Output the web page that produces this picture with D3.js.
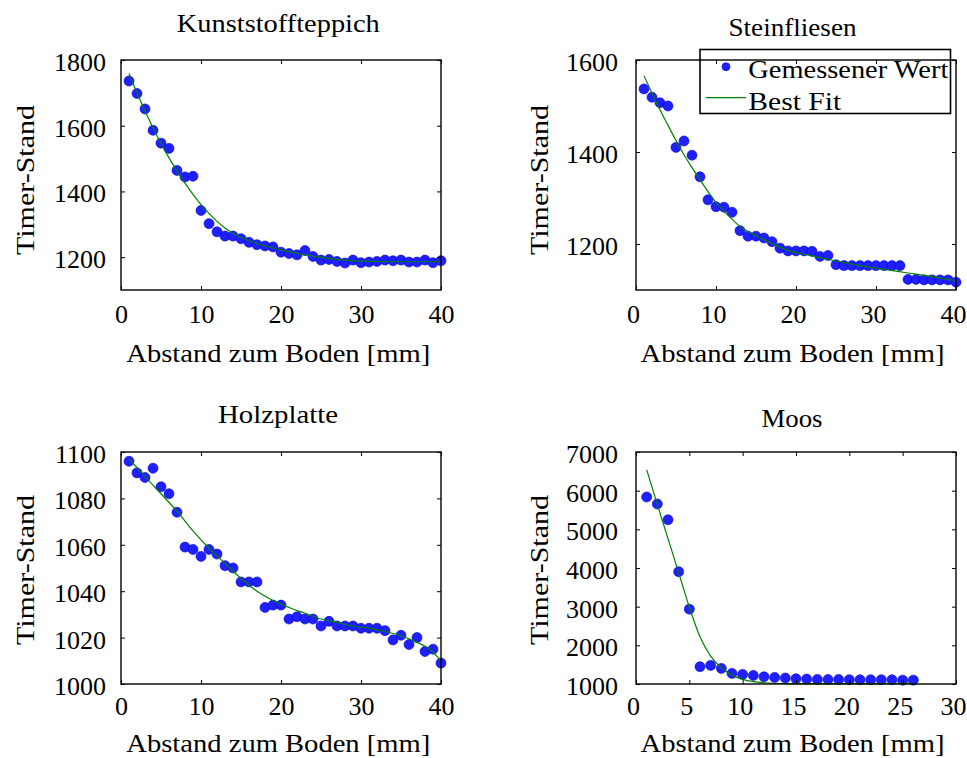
<!DOCTYPE html>
<html>
<head>
<meta charset="utf-8">
<script src="https://cdn.jsdelivr.net/npm/d3@7"></script>
<style>
  body { margin: 0; background: #fff; }
  text { font-family: "Liberation Serif", "Times New Roman", serif; fill: #000; }
</style>
</head>
<body>
<svg id="chart" width="967" height="758"></svg>
<script>
// Abstand zum Boden [mm]
const abstand = [1, 2, 3, 4, 5, 6, 7, 8, 9, 10, 11, 12, 13, 14, 15, 16, 17, 18, 19, 20,
                 21, 22, 23, 24, 25, 26, 27, 28, 29, 30, 31, 32, 33, 34, 35, 36, 37, 38, 39, 40];
const abstandMoos = [1, 2, 3, 4, 5, 6, 7, 8, 9, 10, 11, 12, 13, 14, 15, 16, 17, 18, 19, 20,
                     21, 22, 23, 24, 25, 26];

// gemessene Timer-Stände
const kunststoff = [1736, 1698, 1651, 1586, 1547, 1531, 1464, 1444, 1446, 1342, 1302, 1277, 1264, 1264, 1256, 1245, 1238, 1234, 1231, 1215,
                    1211, 1207, 1220, 1202, 1191, 1193, 1187, 1182, 1191, 1183, 1185, 1187, 1191, 1189, 1191, 1185, 1185, 1191, 1183, 1189];
const steinfliesen = [1537, 1519, 1507, 1500, 1410, 1424, 1393, 1346, 1296, 1281, 1280, 1269, 1229, 1217, 1217, 1213, 1205, 1191, 1185, 1185,
                      1185, 1184, 1173, 1175, 1155, 1153, 1153, 1153, 1153, 1153, 1153, 1153, 1153, 1123, 1123, 1122, 1122, 1122, 1122, 1117];
const holz = [1096, 1091, 1089, 1093, 1085, 1082, 1074, 1059, 1058, 1055, 1058, 1056, 1051, 1050, 1044, 1044, 1044, 1033, 1034, 1034,
              1028, 1029, 1028, 1028, 1025, 1027, 1025, 1025, 1025, 1024, 1024, 1024, 1023, 1019, 1021, 1017, 1020, 1014, 1015, 1009];
const moos = [5836, 5655, 5247, 3904, 2936, 1447, 1481, 1403, 1274, 1248, 1222, 1187, 1170, 1153, 1135, 1127, 1118, 1118, 1118, 1110,
              1110, 1110, 1110, 1110, 1100, 1100];

// Best Fit
const fitX1 = [1, 2, 3, 4, 5, 6, 7, 8, 9, 10, 11, 12, 13, 14, 15, 16, 18, 20, 22, 24, 26, 28, 30, 35, 40];
const fit1 = [1759, 1700, 1645, 1594, 1546, 1502, 1462, 1425, 1391, 1360, 1333, 1309, 1289, 1273, 1260, 1250, 1234, 1222, 1212, 1203, 1196, 1191, 1188, 1186, 1186];
const fitX2 = [1, 2, 3, 4, 5, 6, 7, 8, 9, 10, 11, 12, 13, 14, 15, 17, 19, 22, 25, 28, 31, 34, 37, 40];
const fit2 = [1566, 1528, 1492, 1458, 1425, 1394, 1366, 1340, 1314, 1290, 1271, 1254, 1238, 1227, 1218, 1201, 1186, 1174, 1163, 1153, 1145, 1137, 1129, 1120];
const fitX3 = [1, 3, 5, 7, 9, 11, 13, 15, 17, 19, 21, 23, 25, 27, 29, 31, 33, 35, 37, 38, 39, 40];
const fit3 = [1097, 1089.5, 1082, 1074.5, 1066, 1058.5, 1052, 1045.5, 1040, 1036, 1033, 1030.5, 1028, 1026.5, 1025, 1024, 1022.6, 1020.8, 1018, 1016.3, 1013.7, 1010];
const fitX4 = [1, 2, 3, 4, 5, 6, 7, 8, 9, 10, 11, 12, 13, 15, 18, 22, 26];
const fit4 = [6546, 5640, 4760, 3880, 2990, 2220, 1720, 1420, 1230, 1120, 1060, 1033, 1020, 1012, 1010, 1012, 1018];

// Achsen
const xTicks40 = [0, 10, 20, 30, 40];
const xTicksMoos = [0, 5, 10, 15, 20, 25, 30];
const yTicks1 = [1200, 1400, 1600, 1800];
const yTicks2 = [1200, 1400, 1600];
const yTicks3 = [1000, 1020, 1040, 1060, 1080, 1100];
const yTicks4 = [1000, 2000, 3000, 4000, 5000, 6000, 7000];

const titles = ['Kunststoffteppich', 'Steinfliesen', 'Holzplatte', 'Moos'];
const xLabel = 'Abstand zum Boden [mm]';
const yLabel = 'Timer-Stand';
const legendLabels = ['Gemessener Wert', 'Best Fit'];

const svg = d3.select('#chart');
svg.append('rect').attr('width', 967).attr('height', 758).attr('fill', '#fff');

const FONT = 26;
const blue = '#2020ff';
const green = '#008000';
const fmt = d3.format('d');

const panels = [
    { title: titles[0], xs: abstand, ys: kunststoff, fx: fitX1, fy: fit1,
      xDomain: [0, 40], yDomain: [1100, 1800], xTicks: xTicks40, yTicks: yTicks1,
      left: 121, right: 441, top: 60, bottom: 290,
      titleX: 278.3, titleY: 31.7, titleW: 203, xlabX: 278.3, xlabY: 361.5,
      ylabX: 33.5, ylabY: 180, padX: 15, padY: 15, shiftX: 0 },
    { title: titles[1], xs: abstand, ys: steinfliesen, fx: fitX2, fy: fit2,
      xDomain: [0, 40], yDomain: [1100, 1600], xTicks: xTicks40, yTicks: yTicks2,
      left: 636, right: 956, top: 60, bottom: 290,
      titleX: 792.5, titleY: 36, titleW: 128, xlabX: 792.5, xlabY: 361.5,
      ylabX: 548, ylabY: 180, padX: 15, padY: 18, shiftX: -3, legend: true },
    { title: titles[2], xs: abstand, ys: holz, fx: fitX3, fy: fit3,
      xDomain: [0, 40], yDomain: [1000, 1100], xTicks: xTicks40, yTicks: yTicks3,
      left: 121, right: 441, top: 452, bottom: 684,
      titleX: 278, titleY: 422.7, titleW: 120, xlabX: 278.3, xlabY: 751.7,
      ylabX: 33.5, ylabY: 570, padX: 13, padY: 15, shiftX: 0 },
    { title: titles[3], xs: abstandMoos, ys: moos, fx: fitX4, fy: fit4,
      xDomain: [0, 30], yDomain: [1000, 7000], xTicks: xTicksMoos, yTicks: yTicks4,
      left: 636, right: 956, top: 452, bottom: 684,
      titleX: 792, titleY: 426.7, titleW: 61, xlabX: 792.5, xlabY: 751.7,
      ylabX: 548, ylabY: 570, padX: 13, padY: 18, shiftX: -3 }
];

function styleTicks(sel) {
    sel.select('.domain').remove();
    sel.selectAll('.tick line').attr('stroke', '#000').attr('stroke-width', 1);
    sel.selectAll('.tick text').attr('font-family', '"Liberation Serif", serif')
        .attr('font-size', FONT).attr('fill', '#000');
    sel.attr('font-family', null).attr('font-size', null);
}

function drawPanel(p) {
    const x = d3.scaleLinear().domain(p.xDomain).range([p.left, p.right]);
    const y = d3.scaleLinear().domain(p.yDomain).range([p.bottom, p.top]);
    const g = svg.append('g');

    // Messpunkte
    g.append('g').selectAll('circle')
        .data(p.xs.map((d, i) => [d, p.ys[i]]))
        .join('circle')
        .attr('cx', d => x(d[0]))
        .attr('cy', d => y(d[1]))
        .attr('r', 5)
        .attr('fill', blue)
        .attr('stroke', '#0000d0')
        .attr('stroke-width', 0.6);

    // Best Fit
    const line = d3.line()
        .x(d => x(d[0]))
        .y(d => y(d[1]))
        .curve(d3.curveMonotoneX);
    g.append('path')
        .datum(p.fx.map((d, i) => [d, p.fy[i]]))
        .attr('d', line)
        .attr('fill', 'none')
        .attr('stroke', green)
        .attr('stroke-width', 1.2);

    if (p.legend) {
        const lg = g.append('g');
        lg.append('rect')
            .attr('x', 700).attr('y', 49.5).attr('width', 250.5).attr('height', 64)
            .attr('fill', '#fff').attr('stroke', '#000').attr('stroke-width', 1.6);
        lg.append('circle').attr('cx', 726).attr('cy', 66.7).attr('r', 4)
            .attr('fill', blue).attr('stroke', '#0000d0').attr('stroke-width', 0.6);
        lg.append('text').attr('x', 748.3).attr('y', 78.3).attr('font-size', FONT)
            .attr('textLength', 200).attr('lengthAdjust', 'spacingAndGlyphs')
            .text(legendLabels[0]);
        lg.append('line').attr('x1', 706).attr('x2', 746).attr('y1', 97.7).attr('y2', 97.7)
            .attr('stroke', green).attr('stroke-width', 1.2);
        lg.append('text').attr('x', 748.3).attr('y', 110).attr('font-size', FONT)
            .attr('textLength', 93).attr('lengthAdjust', 'spacingAndGlyphs')
            .text(legendLabels[1]);
    }

    // Ticks innen auf allen Seiten
    g.append('g').attr('transform', `translate(0,${p.bottom})`)
        .call(d3.axisBottom(x).tickValues(p.xTicks).tickSize(-4).tickPadding(p.padX).tickFormat(fmt))
        .call(styleTicks)
        .selectAll('.tick text').attr('dx', p.shiftX);
    g.append('g').attr('transform', `translate(0,${p.top})`)
        .call(d3.axisTop(x).tickValues(p.xTicks).tickSize(-4).tickFormat(''))
        .call(styleTicks);
    g.append('g').attr('transform', `translate(${p.left},0)`)
        .call(d3.axisLeft(y).tickValues(p.yTicks).tickSize(-4).tickPadding(p.padY).tickFormat(fmt))
        .call(styleTicks)
        .selectAll('.tick text').attr('dy', '0.4em');
    g.append('g').attr('transform', `translate(${p.right},0)`)
        .call(d3.axisRight(y).tickValues(p.yTicks).tickSize(-4).tickFormat(''))
        .call(styleTicks);

    // Rahmen
    g.append('rect')
        .attr('x', p.left).attr('y', p.top)
        .attr('width', p.right - p.left).attr('height', p.bottom - p.top)
        .attr('fill', 'none').attr('stroke', '#000').attr('stroke-width', 1.4);

    // Beschriftungen
    g.append('text')
        .attr('x', p.titleX).attr('y', p.titleY)
        .attr('text-anchor', 'middle').attr('font-size', FONT)
        .attr('textLength', p.titleW).attr('lengthAdjust', 'spacingAndGlyphs')
        .text(p.title);
    g.append('text')
        .attr('x', p.xlabX).attr('y', p.xlabY)
        .attr('text-anchor', 'middle').attr('font-size', FONT)
        .attr('textLength', 304).attr('lengthAdjust', 'spacingAndGlyphs')
        .text(xLabel);
    g.append('text')
        .attr('transform', `translate(${p.ylabX},${p.ylabY}) rotate(-90)`)
        .attr('text-anchor', 'middle').attr('font-size', FONT)
        .attr('textLength', 150).attr('lengthAdjust', 'spacingAndGlyphs')
        .text(yLabel);
}

panels.forEach(drawPanel);
</script>
</body>
</html>
